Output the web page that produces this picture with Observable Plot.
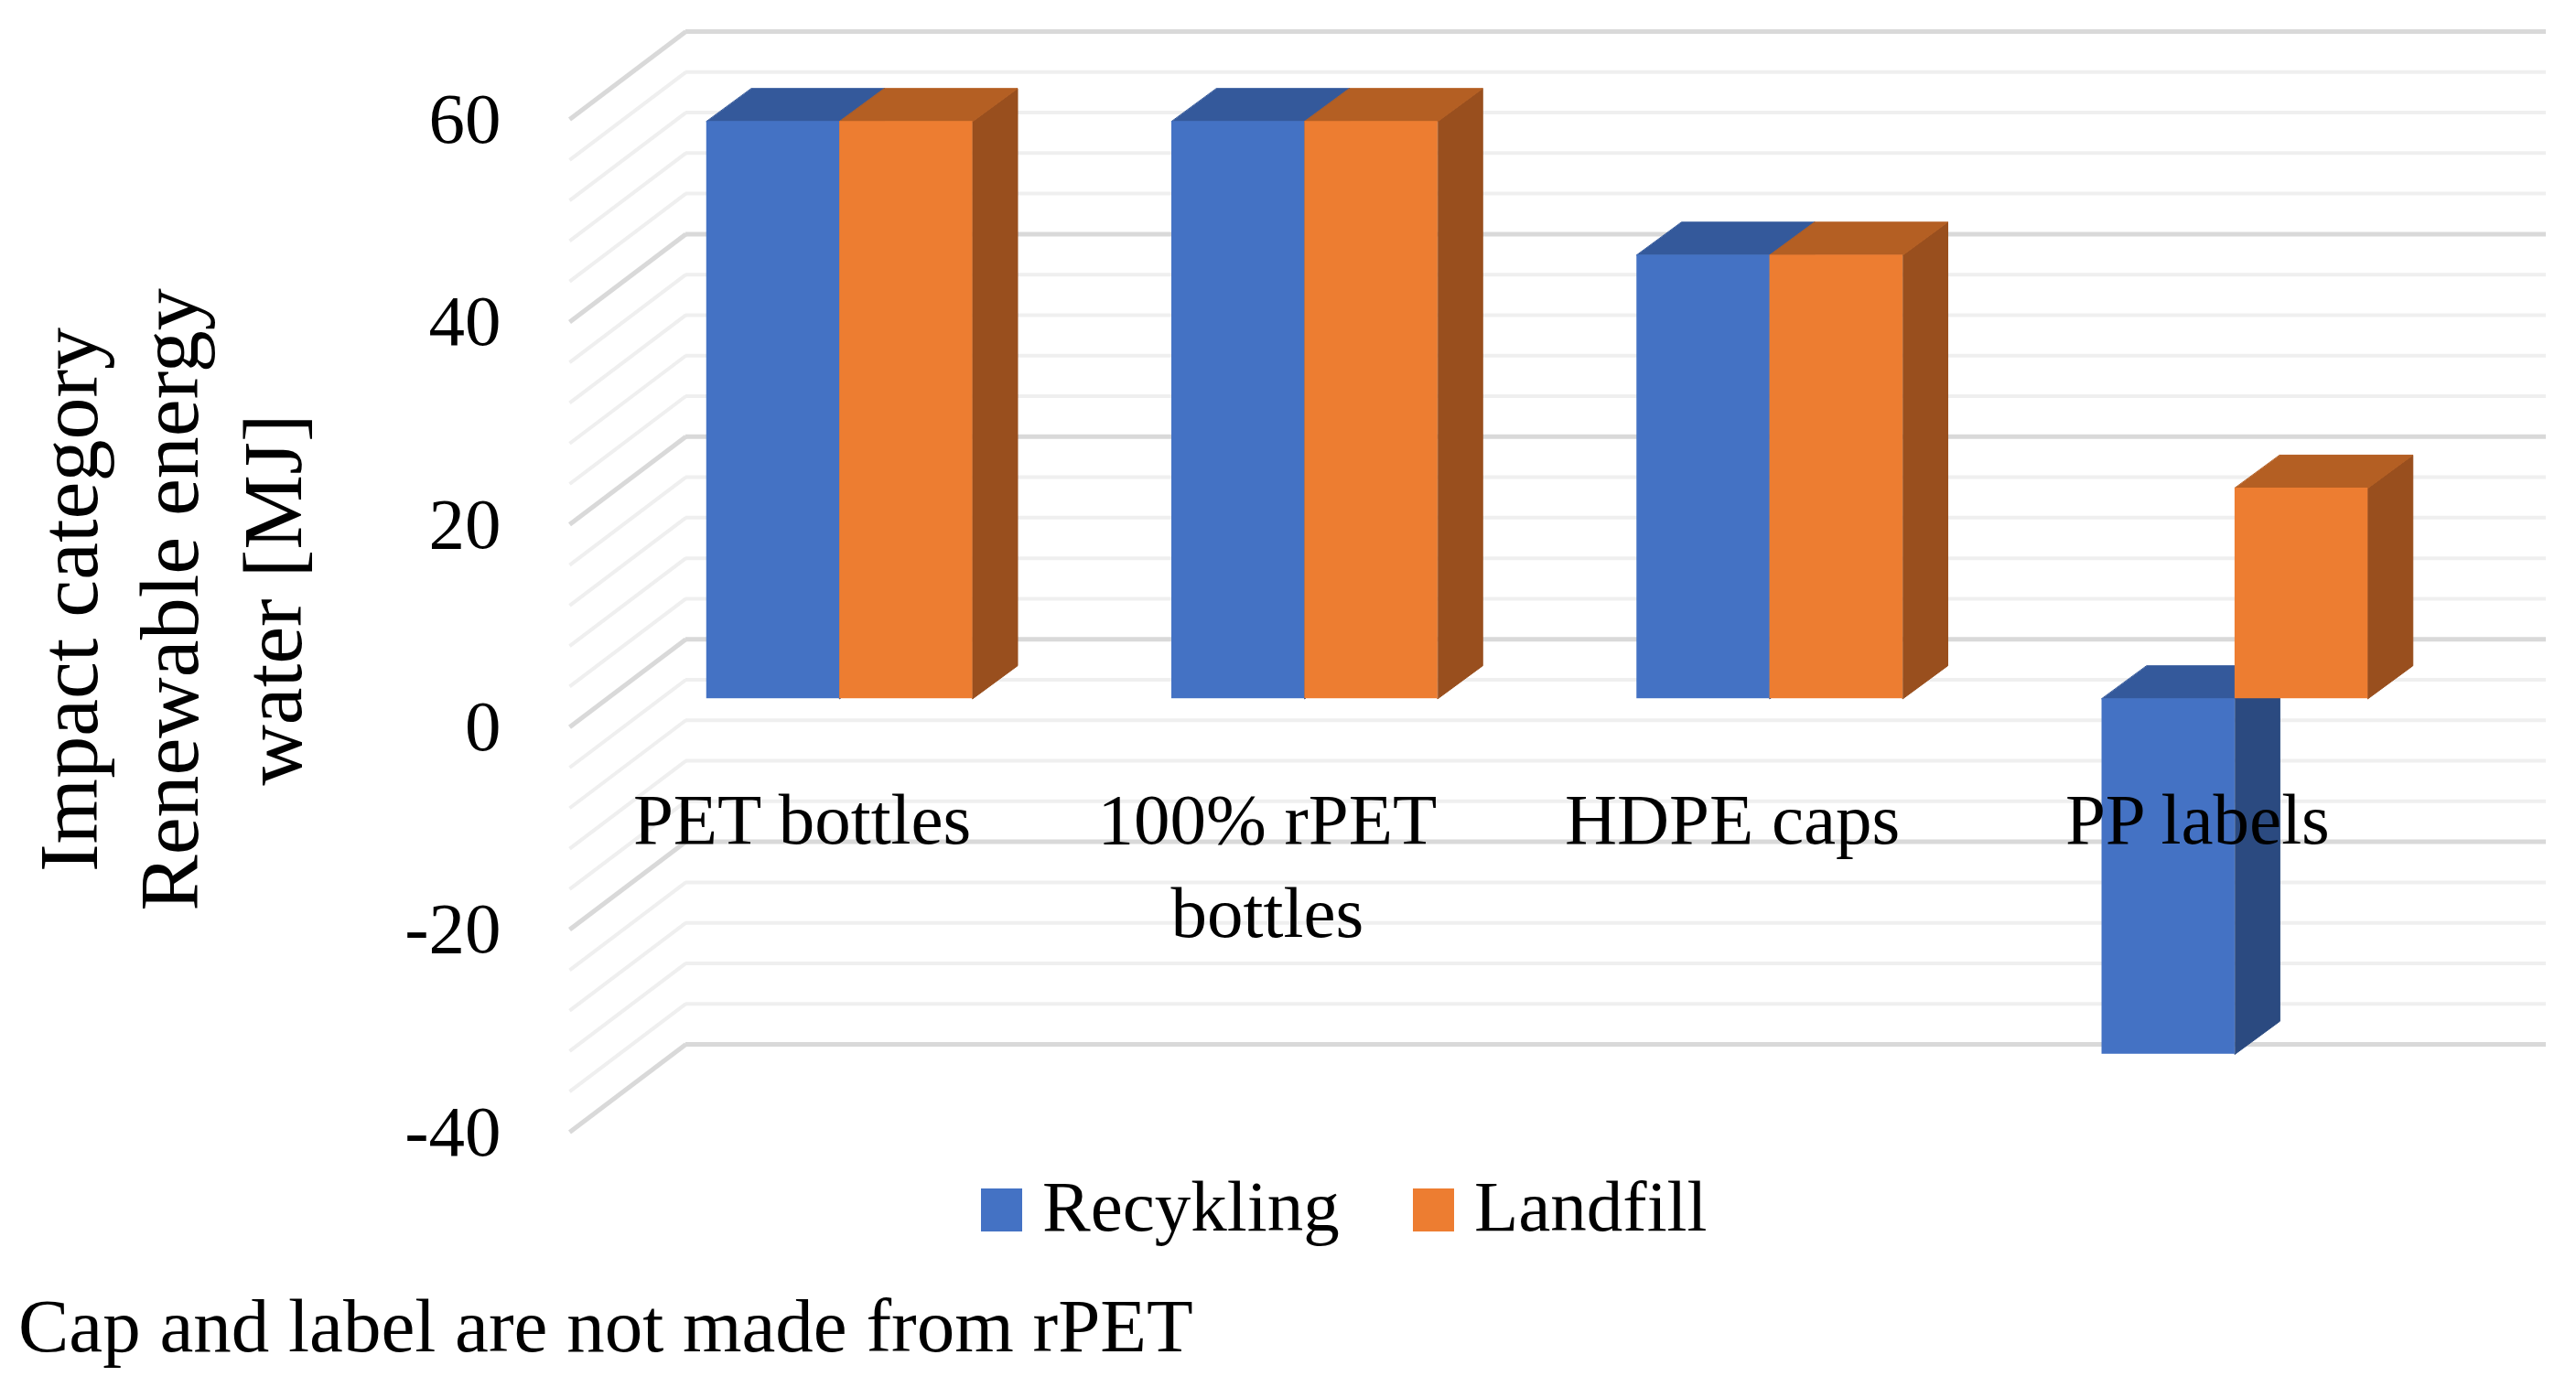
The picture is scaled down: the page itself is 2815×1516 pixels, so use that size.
<!DOCTYPE html>
<html><head><meta charset="utf-8">
<script src="https://cdn.jsdelivr.net/npm/d3@7"></script>
<script src="https://cdn.jsdelivr.net/npm/@observablehq/plot@0.6"></script>
<style>
html,body{margin:0;padding:0;background:#fff;overflow:hidden;}
#wrap{position:relative;width:2815px;height:1516px;font-family:"Liberation Serif",serif;color:#000;}
#wrap svg{position:absolute;left:0;top:0;}
.abs{position:absolute;line-height:1;white-space:nowrap;}
</style></head><body><div id="wrap"></div>
<script>
// ---- data ----
const categories = ["PET bottles", "100% rPET bottles", "HDPE caps", "PP labels"];
const seriesNames = ["Recykling", "Landfill"];
const recycling = [57.0, 57.0, 43.8, -35.1];
const landfill  = [57.0, 57.0, 43.8, 20.8];
const yTicks = [-40, -20, 0, 20, 40, 60];
const gridValues = [-40,-36,-32,-28,-24,-20,-16,-12,-8,-4,0,4,8,12,16,20,24,28,32,36,40,44,48,52,56,60];
const yTitle = ["Impact category", "Renewable energy", "water [MJ]"];
const captionText = "Cap and label are not made from rPET";

// ---- style / layout ----
const W = 2815, H = 1300, mL = 622, mR = 160, mT = 130, mB = 63;
const colors = {
  front: ["#4472c4", "#ed7d31"],
  top:   ["#34599b", "#b45f23"],
  side:  ["#2b4a80", "#994f1e"]
};
const kx = 4 / (W - mL - mR);     // data units per px (x)
const ky = 100 / (H - mT - mB);   // data units per px (y)
const barShift = {dx: 41, dy: -31};            // front plane -> bar front plane (px)
const BDX = 49 * kx, BDY = 36 * ky;            // bar depth in data units
const WDX = 127 * kx, WDY = 96 * ky;           // wall depth in data units
const barW = 0.286;                            // bar width in category units

const series = [recycling, landfill];
const bars = [];
categories.forEach((c, i) => {
  series.forEach((vals, s) => {
    const v = vals[i];
    const x1 = i + 0.5 - (s === 0 ? barW : 0);
    bars.push({id: `${i}-${s}`, s, x1, x2: x1 + barW, lo: Math.min(0, v), hi: Math.max(0, v)});
  });
});
const topPts = [], sidePts = [];
bars.forEach(b => {
  const ct = colors.top[b.s], cs = colors.side[b.s];
  topPts.push(
    {id: b.id, c: ct, x: b.x1, y: b.hi},
    {id: b.id, c: ct, x: b.x2, y: b.hi},
    {id: b.id, c: ct, x: b.x2 + BDX, y: b.hi + BDY},
    {id: b.id, c: ct, x: b.x1 + BDX, y: b.hi + BDY});
  sidePts.push(
    {id: b.id, c: cs, x: b.x2, y: b.lo},
    {id: b.id, c: cs, x: b.x2 + BDX, y: b.lo + BDY},
    {id: b.id, c: cs, x: b.x2 + BDX, y: b.hi + BDY},
    {id: b.id, c: cs, x: b.x2, y: b.hi});
});
const catData = categories.map((c, i) => ({label: c, cx: i + 0.5}));

const isMajor = d => d % 20 === 0;
const minor = gridValues.filter(d => !isMajor(d));
const major = gridValues.filter(isMajor);

const frameMidY = mT + (H - mT - mB) / 2;
const titleBaselines = [105, 215, 328];

const plot = Plot.plot({
  width: W, height: H,
  marginLeft: mL, marginRight: mR, marginTop: mT, marginBottom: mB,
  style: {fontFamily: "Liberation Serif", fontSize: "79px", color: "#000", background: "transparent"},
  x: {domain: [0, 4], axis: null},
  y: {domain: [-40, 60], ticks: yTicks, tickSize: 0, tickPadding: 75, tickFormat: d => String(d), label: null},
  color: {type: "identity"},
  marks: [
    // walls
    Plot.link(minor, {x1: 0, y1: d => d, x2: WDX, y2: d => d + WDY, stroke: "#efefef", strokeWidth: 4}),
    Plot.ruleY(minor, {y: d => d + WDY, x1: WDX, x2: 4 + WDX, stroke: "#efefef", strokeWidth: 4}),
    Plot.link(major, {x1: 0, y1: d => d, x2: WDX, y2: d => d + WDY, stroke: "#d9d9d9", strokeWidth: 5}),
    Plot.ruleY(major, {y: d => d + WDY, x1: WDX, x2: 4 + WDX, stroke: "#d9d9d9", strokeWidth: 5}),
    // bars: side faces, top faces, front faces
    Plot.line(sidePts, {x: "x", y: "y", z: "id", fill: "c", stroke: "c", strokeWidth: 1, curve: "linear-closed", ...barShift}),
    Plot.line(topPts, {x: "x", y: "y", z: "id", fill: "c", stroke: "c", strokeWidth: 1, curve: "linear-closed", ...barShift}),
    Plot.rect(bars, {x1: "x1", x2: "x2", y1: "lo", y2: "hi", fill: b => colors.front[b.s], ...barShift}),
    // category labels
    Plot.text(catData, {x: "cx", y: 0, text: "label", fontSize: 79, lineAnchor: "top", lineHeight: 1.28, lineWidth: 7, dy: 56, textAnchor: "middle", fill: "#000"}),
    // y-axis title
    ...yTitle.map((t, i) => Plot.text([t], {frameAnchor: "left", dx: titleBaselines[i] - mL, dy: 655 - frameMidY, rotate: -90, textAnchor: "middle", lineAnchor: "bottom", fontSize: 92, fill: "#000"}))
  ]
});
const wrap = document.getElementById("wrap");
wrap.appendChild(plot);

// legend and caption
function addEl(text, style) {
  const d = document.createElement("div");
  d.className = "abs";
  d.textContent = text;
  Object.assign(d.style, style);
  wrap.appendChild(d);
  return d;
}
const legendPos = [{sq: 1072, tx: 1139}, {sq: 1544, tx: 1611}];
seriesNames.forEach((n, s) => {
  addEl("", {left: legendPos[s].sq + "px", top: "1299px", width: "45px", height: "47px", background: colors.front[s]});
  addEl(n, {left: legendPos[s].tx + "px", top: (1345 - 0.8375 * 79) + "px", fontSize: "79px"});
});
addEl(captionText, {left: "20px", top: (1478 - 0.8375 * 83) + "px", fontSize: "83px"});
</script></body></html>
